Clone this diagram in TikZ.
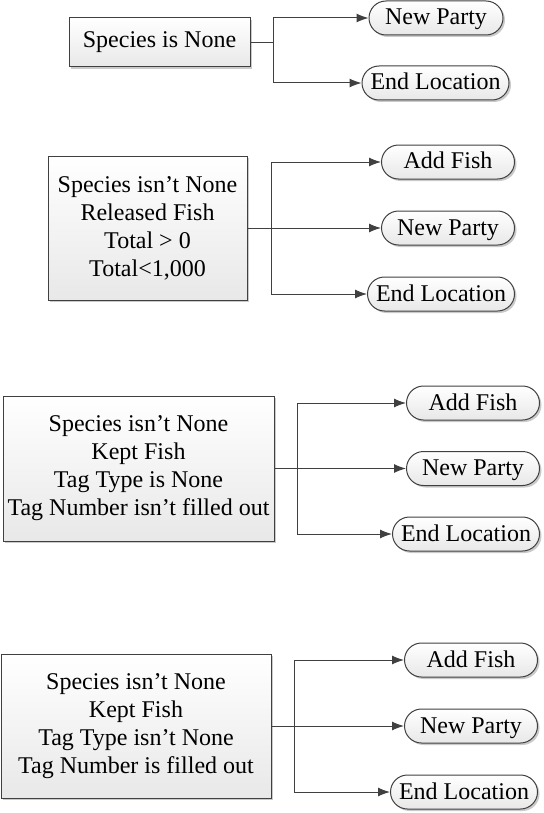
\documentclass[tikz,border=0pt]{standalone}
\usepackage{fontspec}
\setmainfont{Liberation Serif}
\usepackage{tikz}
\usetikzlibrary{shadows,shapes.misc,calc,arrows.meta}

\begin{document}
\begin{tikzpicture}[x=0.5pt,y=-0.5pt,
  cond/.style={draw=black!75,line width=0.5pt,top color=white,bottom color=black!9,
    drop shadow={shadow xshift=1pt,shadow yshift=-1pt,fill=black!35,opacity=.6},
    align=center,inner sep=0pt,font=\fontsize{12}{14}\selectfont},
  term/.style={draw=black!75,line width=0.5pt,rounded corners=8.5pt,top color=white,bottom color=black!9,
    drop shadow={shadow xshift=1pt,shadow yshift=-1pt,fill=black!35,opacity=.6},
    minimum width=66.5pt,minimum height=17pt,inner sep=0pt,text height=8pt,text depth=1pt,
    font=\fontsize{12}{14}\selectfont},
  link/.style={draw=black!75,line width=0.5pt,-{Latex[length=6pt,width=4.5pt]}}]

\useasboundingbox (0,0) rectangle (543,813);

% Species is None
\node[cond,minimum width=90.5pt,minimum height=24.5pt] (c1) at (159.5,42.5) {Species is None};
\node[term,minimum width=67pt] (c1p) at (436,18) {New Party};
\node[term,minimum width=73.5pt] (c1e) at (435.5,83) {End Location};
\coordinate (j1) at (273,42.5);
\draw[link,-] (c1.east) -- (j1);
\draw[link] (j1) |- (c1p);
\draw[link] (j1) |- (c1e);

% Released fish
\node[cond,minimum width=99.5pt,minimum height=72pt] (c2) at (147.5,228)
  {Species isn’t None\\Released Fish\\Total > 0\\Total<1,000};
\node[term,anchor=east] (c2a) at (515,162) {Add Fish};
\node[term,anchor=east] (c2p) at (515,228) {New Party};
\node[term,anchor=east,minimum width=73.5pt] (c2e) at (515,294) {End Location};
\coordinate (j2) at (271,228);
\draw[link,-] (c2.east) -- (j2);
\draw[link] (j2) |- (c2a);
\draw[link] (j2) -- (c2p);
\draw[link] (j2) |- (c2e);

% Kept fish, no tag
\node[cond,minimum width=135.5pt,minimum height=72.5pt] (c3) at (138.5,468.5)
  {Species isn’t None\\Kept Fish\\Tag Type is None\\Tag Number isn’t filled out};
\node[term,anchor=east] (c3a) at (540,403) {Add Fish};
\node[term,anchor=east] (c3p) at (540,468.5) {New Party};
\node[term,anchor=east,minimum width=73.5pt] (c3e) at (540,534) {End Location};
\coordinate (j3) at (297,468.5);
\draw[link,-] (c3.east) -- (j3);
\draw[link] (j3) |- (c3a);
\draw[link] (j3) -- (c3p);
\draw[link] (j3) |- (c3e);

% Kept fish, tagged
\node[cond,minimum width=135pt,minimum height=72pt] (c4) at (136,726)
  {Species isn’t None\\Kept Fish\\Tag Type isn’t None\\Tag Number is filled out};
\node[term,anchor=east] (c4a) at (538,660) {Add Fish};
\node[term,anchor=east] (c4p) at (538,726) {New Party};
\node[term,anchor=east,minimum width=73.5pt] (c4e) at (538,792) {End Location};
\coordinate (j4) at (294,726);
\draw[link,-] (c4.east) -- (j4);
\draw[link] (j4) |- (c4a);
\draw[link] (j4) -- (c4p);
\draw[link] (j4) |- (c4e);

\end{tikzpicture}
\end{document}
